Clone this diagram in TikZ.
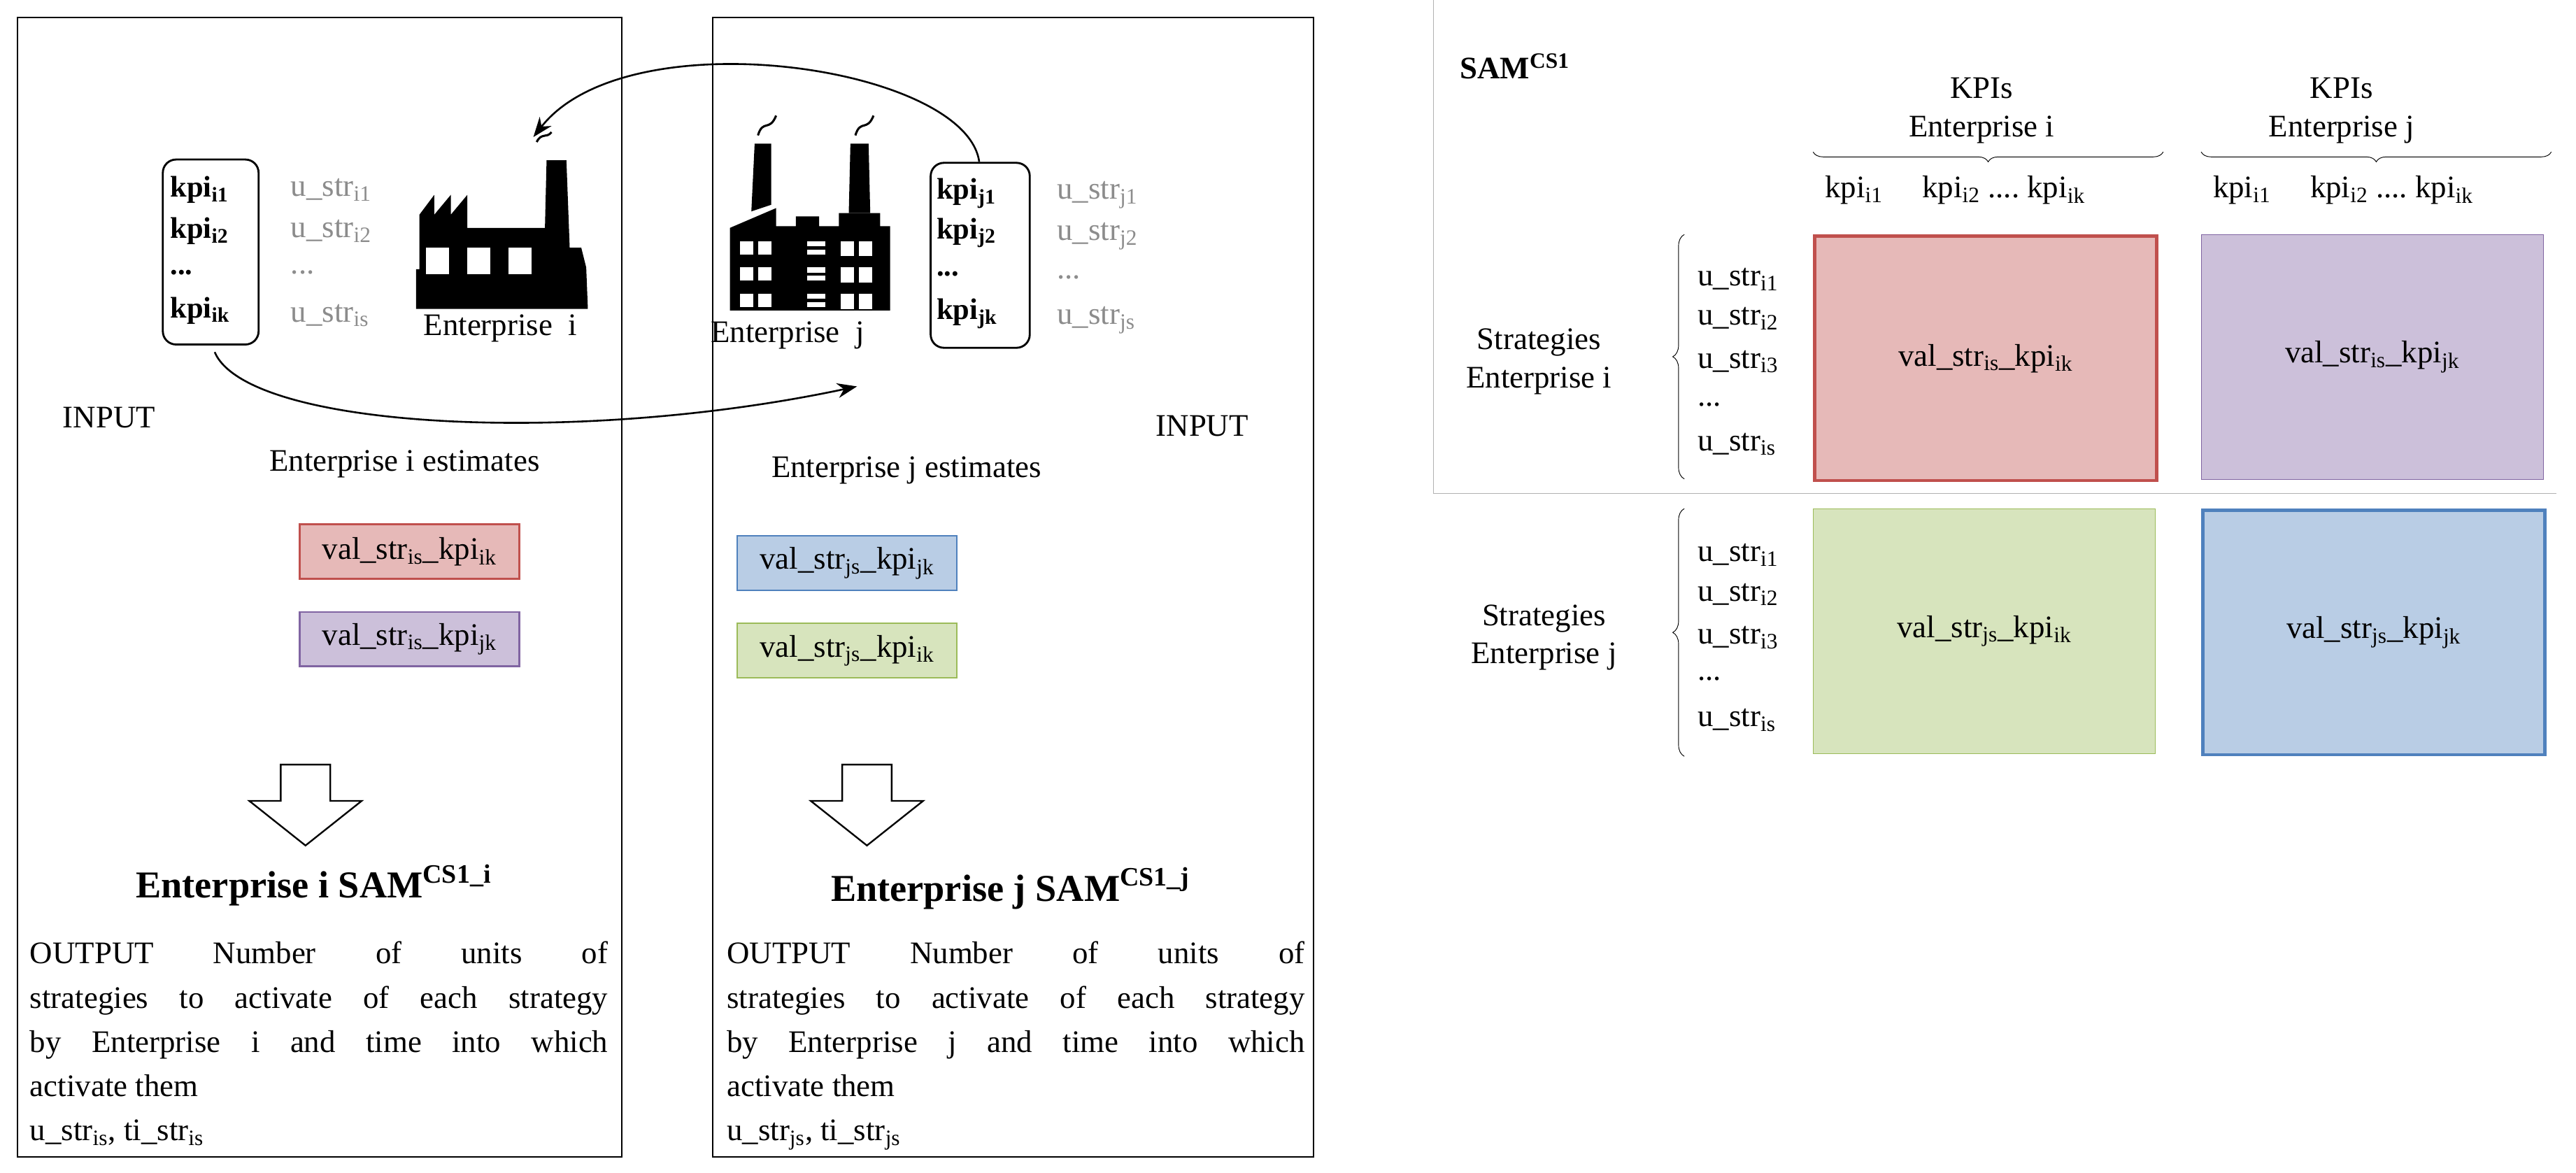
\documentclass[tikz,border=0pt]{standalone}
\usepackage{fontspec}
\setmainfont{Liberation Serif}
\usetikzlibrary{decorations.pathreplacing,arrows.meta}
\newcommand\sbs[1]{\textsubscript{#1}}
\newcommand\ddd{...}
\definecolor{rfill}{HTML}{E6B9B8}\definecolor{rline}{HTML}{C0504D}
\definecolor{pfill}{HTML}{CCC0DA}\definecolor{pline}{HTML}{8064A2}
\definecolor{gfill}{HTML}{D7E4BD}\definecolor{gline}{HTML}{9BBB59}
\definecolor{bfill}{HTML}{B9CDE5}\definecolor{bline}{HTML}{4F81BD}
\definecolor{ugray}{HTML}{8C8C8C}
\begin{document}
\begin{tikzpicture}[x=1pt,y=-1pt,
  txt/.style={font=\fontsize{19}{23}\selectfont,inner sep=0pt},
  ustr/.style={txt,text=ugray,anchor=west},
  kpib/.style={draw,line width=1.2pt,rounded corners=8pt},
  kp/.style={txt,font=\fontsize{18}{20}\selectfont\bfseries,anchor=west},
  vbox/.style={txt,minimum width=133pt,minimum height=33pt,line width=1pt},
  big/.style={draw,minimum width=207pt,minimum height=148pt,txt},
  par/.style={txt,text width=350pt,align=justify,anchor=north west,font=\fontsize{19}{26.8}\selectfont},
  arr/.style={-{Stealth[length=12pt,width=9pt]},line width=1.1pt}]
\useasboundingbox (0,0) rectangle (1560,710);
% panels
\node[draw,line width=1pt,minimum width=366pt,minimum height=690pt,anchor=north west] (L) at (10,10) {};
\node[draw,line width=1pt,minimum width=364pt,minimum height=690pt,anchor=north west] (M) at (431,10) {};
\draw[gray!60] (868,0) -- (868,299) -- (1548,299);
% left kpi box
\node[kpib,minimum width=58pt,minimum height=112pt,anchor=north west] (ki) at (98,96) {};
\node[kp] (ki1) at (103,115) {kpi\sbs{i1}};
\node[kp] (ki2) at (103,140) {kpi\sbs{i2}};
\node[kp] (ki3) at (103,165) {...};
\node[kp] (ki4) at (103,188) {kpi\sbs{ik}};
\node[ustr] (ui1) at (176,115) {u\_str\sbs{i1}};
\node[ustr] (ui2) at (176,140) {u\_str\sbs{i2}};
\node[ustr] (ui3) at (176,165) {...};
\node[ustr] (ui4) at (176,191) {u\_str\sbs{is}};
% factory i
\fill (252,187) -- (252,163) -- (254,163) -- (254,130) -- (263,118) -- (263,130) -- (273,118) -- (273,130) -- (283,118) -- (283,138) -- (330,138) -- (331,97) -- (343,97) -- (345,150) -- (352,150) -- (355,162) -- (356,187) -- cycle;
\foreach \x in {258,283,308} \fill[white] (\x,150) rectangle (\x+14,166);
\draw[line width=1.3pt] (325,86) .. controls (328,80) and (331,84) .. (334,80);
\node[txt] (ei) at (303,199) {Enterprise\ \ i};
% middle kpi box
\node[kpib,minimum width=60pt,minimum height=112pt,anchor=north west] (kj) at (563,98) {};
\node[kp] (kj1) at (567,117) {kpi\sbs{j1}};
\node[kp] (kj2) at (567,141) {kpi\sbs{j2}};
\node[kp] (kj3) at (567,166) {...};
\node[kp] (kj4) at (567,190) {kpi\sbs{jk}};
\node[ustr] (uj1) at (640,118) {u\_str\sbs{j1}};
\node[ustr] (uj2) at (640,143) {u\_str\sbs{j2}};
\node[ustr] (uj3) at (640,168) {...};
\node[ustr] (uj4) at (640,194) {u\_str\sbs{js}};
% factory j
\fill (442,188) -- (442,138) -- (470,126) -- (470,137) -- (482,137) -- (482,131) -- (496,131) -- (496,137) -- (508,137) -- (508,129) -- (533,129) -- (533,137) -- (539,137) -- (539,188) -- cycle;
\fill (455,128) -- (457,87) -- (467,87) -- (467,124) -- cycle;
\fill (514,129) -- (515,87) -- (526,87) -- (527,129) -- cycle;
\foreach \y in {146,162,178} {\fill[white] (448,\y) rectangle (456,\y+8); \fill[white] (459,\y) rectangle (467,\y+8);
  \fill[white] (489,\y) rectangle (500,\y+3); \fill[white] (489,\y+5) rectangle (500,\y+8);
  \fill[white] (509,\y) rectangle (517,\y+9); \fill[white] (520,\y) rectangle (528,\y+9);}
\draw[line width=1.3pt] (459,82) .. controls (462,72) and (466,80) .. (470,70);
\draw[line width=1.3pt] (518,82) .. controls (521,72) and (525,80) .. (529,70);
\node[txt] (ej) at (477,203) {Enterprise\ \ j};
% arrows
\draw[arr] (kj.north west) ++(30,0) coordinate (a0) .. controls (585,40) and (380,10) .. (323,83) coordinate (a1);
\draw[arr] (ki.south west) ++(32,4) coordinate (b0) .. controls (150,260) and (350,270) .. (519,234) coordinate (b1);
% labels
\node[txt] (in1) at (66,253) {INPUT};
\node[txt] (in2) at (728,258) {INPUT};
\node[txt] (es1) at (245,281) {Enterprise i estimates};
\node[txt] (es2) at (549,285) {Enterprise j estimates};
\node[vbox,draw=rline,fill=rfill] (v1) at (248,334) {val\_str\sbs{is}\_kpi\sbs{ik}};
\node[vbox,draw=pline,fill=pfill] (v2) at (248,387) {val\_str\sbs{is}\_kpi\sbs{jk}};
\node[vbox,draw=bline,fill=bfill] (v3) at (513,341) {val\_str\sbs{js}\_kpi\sbs{jk}};
\node[vbox,draw=gline,fill=gfill] (v4) at (513,394) {val\_str\sbs{js}\_kpi\sbs{ik}};
% down arrows
\draw[line width=1pt] (170,463) -- (200,463) -- (200,485) -- (219,485) -- (185,512) -- (151,485) -- (170,485) -- cycle;
\draw[line width=1pt] (510,463) -- (540,463) -- (540,485) -- (559,485) -- (525,512) -- (491,485) -- (510,485) -- cycle;
\node[txt,font=\fontsize{23}{26}\selectfont\bfseries] (t1) at (190,536) {Enterprise i SAM\textsuperscript{CS1\_i}};
\node[txt,font=\fontsize{23}{26}\selectfont\bfseries] (t2) at (612,538) {Enterprise j SAM\textsuperscript{CS1\_j}};
\node[par] (p1) at (18,570) {OUTPUT Number of units of\linebreak strategies to activate of each strategy\linebreak by Enterprise i and time into which\linebreak activate them\\ u\_str\sbs{is}, ti\_str\sbs{is}};
\node[par] (p2) at (440,570) {OUTPUT Number of units of\linebreak strategies to activate of each strategy\linebreak by Enterprise j and time into which\linebreak activate them\\ u\_str\sbs{js}, ti\_str\sbs{js}};
% right panel
\node[txt,font=\fontsize{19}{22}\selectfont\bfseries,anchor=west] (sam) at (884,40) {SAM\textsuperscript{CS1}};
\node[txt,align=center] (k1) at (1200,67) {KPIs\\Enterprise i};
\node[txt,align=center] (k2) at (1418,67) {KPIs\\Enterprise j};
\draw[decorate,decoration={brace,amplitude=6pt}] (1310,92) -- (1098,92);
\draw[decorate,decoration={brace,amplitude=6pt}] (1545,92) -- (1333,92);
\node[txt,anchor=west] (h1) at (1105,115) {kpi\sbs{i1}\quad\ kpi\sbs{i2} ....\ kpi\sbs{ik}};
\node[txt,anchor=west] (h2) at (1340,115) {kpi\sbs{i1}\quad\ kpi\sbs{i2} ....\ kpi\sbs{ik}};
\node[big,draw=rline,fill=rfill,line width=2pt,anchor=north west] (B1) at (1098,142) {val\_str\sbs{is}\_kpi\sbs{ik}};
\node[big,draw=pline,fill=pfill,anchor=north west] (B2) at (1333,142) {val\_str\sbs{is}\_kpi\sbs{jk}};
\node[big,draw=gline,fill=gfill,anchor=north west] (B3) at (1098,308) {val\_str\sbs{js}\_kpi\sbs{ik}};
\node[big,draw=bline,fill=bfill,line width=2pt,anchor=north west] (B4) at (1333,308) {val\_str\sbs{js}\_kpi\sbs{jk}};
\draw[decorate,decoration={brace,amplitude=7pt}] (1020,290) -- (1020,142);
\draw[decorate,decoration={brace,amplitude=7pt}] (1020,458) -- (1020,308);
\foreach \n/\y/\t in {a/169/u\_str\sbs{i1},b/193/u\_str\sbs{i2},c/219/u\_str\sbs{i3},d/245/\ddd,e/269/u\_str\sbs{is}} \node[txt,anchor=west] (r\n) at (1028,\y) {\t};
\foreach \n/\y/\t in {a/336/u\_str\sbs{i1},b/360/u\_str\sbs{i2},c/386/u\_str\sbs{i3},d/411/\ddd,e/436/u\_str\sbs{is}} \node[txt,anchor=west] (s\n) at (1028,\y) {\t};
\node[txt,align=center] (st1) at (932,219) {Strategies\\Enterprise i};
\node[txt,align=center] (st2) at (935,386) {Strategies\\Enterprise j};
\end{tikzpicture}
\end{document}
